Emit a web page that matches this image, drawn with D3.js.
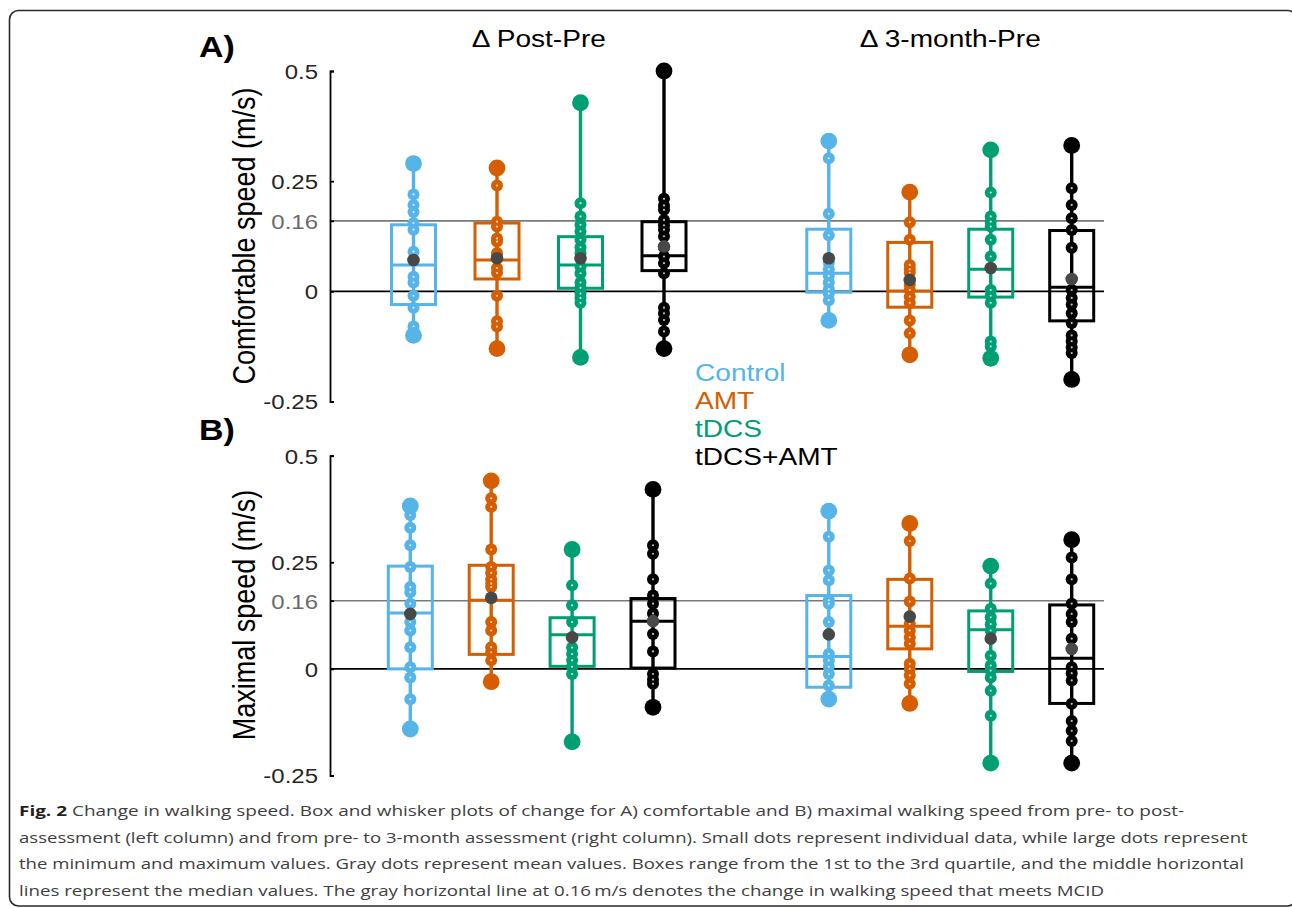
<!DOCTYPE html>
<html>
<head>
<meta charset="utf-8">
<script src="https://cdn.jsdelivr.net/npm/d3@7"></script>
<style>
  html, body { margin: 0; padding: 0; background: #fff; }
  svg { display: block; }
</style>
</head>
<body>
<svg id="chart" width="1292" height="908"></svg>
<script>
// ---------------- DATA ----------------
const groups = ["Control", "AMT", "tDCS", "tDCS+AMT"];
const periods = ["\u0394 Post-Pre", "\u0394 3-month-Pre"];
const yTickValues = [-0.25, 0, 0.16, 0.25, 0.5];
const yTickLabels = ["-0.25", "0", "0.16", "0.25", "0.5"];
const mcid = 0.16;

// A) Comfortable speed, individual changes (m/s)
const comfPostPre = [
  [0.29, 0.22, 0.196, 0.18, 0.155, 0.14, 0.09, 0.033, 0.02, -0.01, -0.037, -0.08, -0.10],
  [0.28, 0.24, 0.158, 0.147, 0.12, 0.113, 0.087, 0.079, 0.053, 0.042, -0.01, -0.068, -0.08, -0.13],
  [0.428, 0.2, 0.17, 0.151, 0.136, 0.117, 0.1, 0.087, 0.056, 0.041, 0.02, 0.008, -0.005, -0.015, -0.026, -0.15],
  [0.5, 0.21, 0.195, 0.185, 0.162, 0.15, 0.14, 0.125, 0.1, 0.079, 0.064, 0.041, -0.037, -0.05, -0.065, -0.091, -0.13]
];
// [Q1, median, Q3, mean]
const comfPostPreStats = [
  [-0.03, 0.06, 0.151, 0.071],
  [0.028, 0.071, 0.155, 0.075],
  [0.007, 0.06, 0.124, 0.075],
  [0.047, 0.081, 0.158, 0.102]
];
const comf3mPre = [
  [0.341, 0.302, 0.176, 0.127, 0.065, 0.05, 0.035, 0.02, 0.005, -0.005, -0.02, -0.066],
  [0.225, 0.157, 0.117, 0.06, 0.05, 0.042, 0.015, 0.003, -0.012, -0.026, -0.066, -0.095, -0.144],
  [0.321, 0.224, 0.17, 0.158, 0.147, 0.117, 0.079, 0.003, -0.01, -0.026, -0.114, -0.125, -0.152],
  [0.331, 0.234, 0.196, 0.166, 0.139, 0.099, 0.003, -0.015, -0.03, -0.05, -0.072, -0.1, -0.113, -0.127, -0.14, -0.2]
];
const comf3mPreStats = [
  [-0.002, 0.041, 0.141, 0.075],
  [-0.036, 0.001, 0.111, 0.026],
  [-0.013, 0.05, 0.141, 0.053],
  [-0.067, 0.009, 0.138, 0.028]
];

// B) Maximal speed, individual changes (m/s)
const maxPostPre = [
  [0.382, 0.361, 0.331, 0.29, 0.239, 0.192, 0.18, 0.153, 0.11, 0.09, 0.051, 0.004, -0.02, -0.071, -0.141],
  [0.441, 0.4, 0.38, 0.28, 0.239, 0.225, 0.21, 0.2, 0.192, 0.11, 0.09, 0.051, 0.039, 0.02, -0.03],
  [0.28, 0.196, 0.149, 0.11, 0.05, 0.035, 0.02, 0.005, -0.012, -0.171],
  [0.421, 0.29, 0.27, 0.21, 0.172, 0.153, 0.13, 0.082, 0.041, -0.012, -0.025, -0.035, -0.09]
];
const maxPostPreStats = [
  [0.0, 0.131, 0.241, 0.129],
  [0.034, 0.161, 0.243, 0.167],
  [0.006, 0.08, 0.12, 0.074],
  [0.002, 0.112, 0.165, 0.112]
];
const max3mPre = [
  [0.37, 0.31, 0.231, 0.208, 0.161, 0.153, 0.11, 0.035, 0.02, 0.005, -0.012, -0.039, -0.071],
  [0.341, 0.3, 0.212, 0.158, 0.106, 0.09, 0.074, 0.059, 0.012, 0.0, -0.015, -0.035, -0.081],
  [0.241, 0.2, 0.141, 0.121, 0.105, 0.09, 0.031, 0.008, -0.004, -0.02, -0.051, -0.11, -0.221],
  [0.303, 0.261, 0.21, 0.153, 0.129, 0.11, 0.071, 0.004, -0.01, -0.027, -0.082, -0.122, -0.145, -0.169, -0.221]
];
const max3mPreStats = [
  [-0.043, 0.029, 0.172, 0.081],
  [0.047, 0.1, 0.21, 0.123],
  [-0.006, 0.092, 0.136, 0.071],
  [-0.081, 0.025, 0.15, 0.047]
];

const captionLines = [
  [["Fig. 2", true], [" Change in walking speed. Box and whisker plots of change for A) comfortable and B) maximal walking speed from pre- to post-", false]],
  [["assessment (left column) and from pre- to 3-month assessment (right column). Small dots represent individual data, while large dots represent", false]],
  [["the minimum and maximum values. Gray dots represent mean values. Boxes range from the 1st to the 3rd quartile, and the middle horizontal", false]],
  [["lines represent the median values. The gray horizontal line at 0.16\u2009m/s denotes the change in walking speed that meets MCID", false]]
];

// ---------------- STYLE / LAYOUT ----------------
const colors = ["#56B4E9", "#D55E00", "#009E73", "#000000"];
const SX = 1.17;           // horizontal stretch of the original figure
const FONT = "'Liberation Sans', Arial, Helvetica, sans-serif";
const svg = d3.select("#chart");

// frame
svg.append("rect")
  .attr("x", 9.5).attr("y", 10.5).attr("width", 1287).attr("height", 895.5)
  .attr("rx", 9).attr("ry", 9)
  .attr("fill", "none").attr("stroke", "#2a2a2a").attr("stroke-width", 1.6);

function stext(parent, x, y, str, o = {}) {
  const t = parent.append("text")
    .attr("transform", `translate(${x},${y}) scale(${SX},1)` + (o.rotate ? ` rotate(${o.rotate})` : ""))
    .attr("font-family", FONT)
    .attr("font-size", o.size || 20)
    .attr("font-weight", o.weight || "normal")
    .attr("fill", o.fill || "#000")
    .attr("text-anchor", o.anchor || "start")
    .text(str);
  return t;
}

const panels = [
  { label: "A)", labelY: 57, yLabel: "Comfortable speed (m/s)", yLabelY: 236,
    yRange: [401.5, 71], xLeft: [413.5, 664], xRight: [828.8, 1071.7],
    data: [comfPostPre, comf3mPre], stats: [comfPostPreStats, comf3mPreStats] },
  { label: "B)", labelY: 440, yLabel: "Maximal speed (m/s)", yLabelY: 615,
    yRange: [775.5, 455.7], xLeft: [410.3, 653], xRight: [828.8, 1071.7],
    data: [maxPostPre, max3mPre], stats: [maxPostPreStats, max3mPreStats] }
];

const axisX = 330, lineEnd = 1104;

panels.forEach((p, pi) => {
  const g = svg.append("g");
  const y = d3.scaleLinear().domain([-0.25, 0.5]).range(p.yRange);

  // panel label
  stext(g, 199, p.labelY, p.label, { size: 29, weight: "bold" });

  // y label
  svg.append("text")
    .attr("transform", `translate(255,${p.yLabelY}) scale(${SX},1) rotate(-90)`)
    .attr("font-family", FONT).attr("font-size", 27).attr("fill", "#000")
    .attr("text-anchor", "middle").text(p.yLabel);

  // reference lines
  g.append("line").attr("x1", axisX).attr("x2", lineEnd)
    .attr("y1", y(mcid)).attr("y2", y(mcid))
    .attr("stroke", "#7a7a7a").attr("stroke-width", 1.6);
  g.append("line").attr("x1", axisX).attr("x2", lineEnd)
    .attr("y1", y(0)).attr("y2", y(0))
    .attr("stroke", "#000").attr("stroke-width", 1.6);

  // axis
  const ax = g.append("g").attr("transform", `translate(${axisX},0)`)
    .call(d3.axisLeft(y).tickValues(yTickValues)
      .tickFormat(d => yTickLabels[yTickValues.indexOf(d)])
      .tickSize(-4).tickPadding(12));
  ax.select(".domain").attr("stroke", "#000").attr("stroke-width", 1.8);
  ax.selectAll(".tick line").attr("stroke", "#000").attr("stroke-width", 1.8);
  ax.selectAll(".tick text")
    .attr("font-family", FONT).attr("font-size", 20.5)
    .attr("fill", d => d === mcid ? "#6b6b6b" : "#262626")
    .attr("x", -12 / SX).attr("dy", "0.36em")
    .attr("transform", `scale(${SX},1)`);

  // period scales
  const xScales = [
    d3.scalePoint().domain(groups).range(p.xLeft),
    d3.scalePoint().domain(groups).range(p.xRight)
  ];

  [0, 1].forEach(ti => {
    if (pi === 0) {
      const xs = xScales[ti];
      const cx = (xs(groups[0]) + xs(groups[groups.length - 1])) / 2;
      stext(g, cx, 47, periods[ti], { size: 24, anchor: "middle" });
    }
    groups.forEach((grp, gi) => {
      const x = xScales[ti](grp);
      const vals = p.data[ti][gi];
      const [q1, med, q3, mean] = p.stats[ti][gi];
      const col = colors[gi];
      const [mn, mx] = d3.extent(vals);
      const bw = 44;
      const gg = g.append("g");
      // box
      gg.append("rect").attr("x", x - bw / 2).attr("y", y(q3))
        .attr("width", bw).attr("height", y(q1) - y(q3))
        .attr("fill", "none").attr("stroke", col).attr("stroke-width", 3);
      gg.append("line").attr("x1", x - bw / 2).attr("x2", x + bw / 2)
        .attr("y1", y(med)).attr("y2", y(med))
        .attr("stroke", col).attr("stroke-width", 3);
      // whisker
      gg.append("line").attr("x1", x).attr("x2", x)
        .attr("y1", y(mn)).attr("y2", y(mx))
        .attr("stroke", col).attr("stroke-width", 3.4);
      // small individual dots
      const inner = vals.filter(v => v !== mn && v !== mx);
      gg.selectAll("circle.small").data(inner).join("circle")
        .attr("class", "small")
        .attr("cx", x).attr("cy", d => y(d)).attr("r", 6)
        .attr("fill", col);
      gg.selectAll("circle.hole").data(inner).join("circle")
        .attr("class", "hole")
        .attr("cx", x).attr("cy", d => y(d)).attr("r", 1.1)
        .attr("fill", "#fff").attr("fill-opacity", 0.75);
      // large min/max dots
      gg.selectAll("circle.big").data([mn, mx]).join("circle")
        .attr("class", "big")
        .attr("cx", x).attr("cy", d => y(d)).attr("r", 8.4)
        .attr("fill", col);
      // mean
      gg.append("circle").attr("cx", x).attr("cy", y(mean)).attr("r", 6.3)
        .attr("fill", "#484848");
    });
  });
});

// legend
const legendY = [380.5, 408.5, 436.5, 465];
groups.forEach((grp, gi) => {
  stext(svg, 695, legendY[gi], grp, { size: 24, fill: colors[gi] });
});

// caption
const capX = 19;
const capBase = [816, 842.6, 869.2, 895.8];
const capEnd = [1185, 1248, 1245, 1105];
captionLines.forEach((parts, li) => {
  const t = svg.append("text")
    .attr("font-family", "'Open Sans', 'Noto Sans', sans-serif")
    .attr("font-size", 15)
    .attr("fill", "#404040");
  parts.forEach(([s, bold]) => {
    t.append("tspan").attr("font-weight", bold ? "bold" : "normal")
      .attr("fill", bold ? "#231f20" : "#404040").text(s);
  });
  const w = t.node().getComputedTextLength();
  const sx = (capEnd[li] - capX) / w;
  t.attr("transform", `translate(${capX},${capBase[li]}) scale(${sx},1)`);
});
</script>
</body>
</html>
